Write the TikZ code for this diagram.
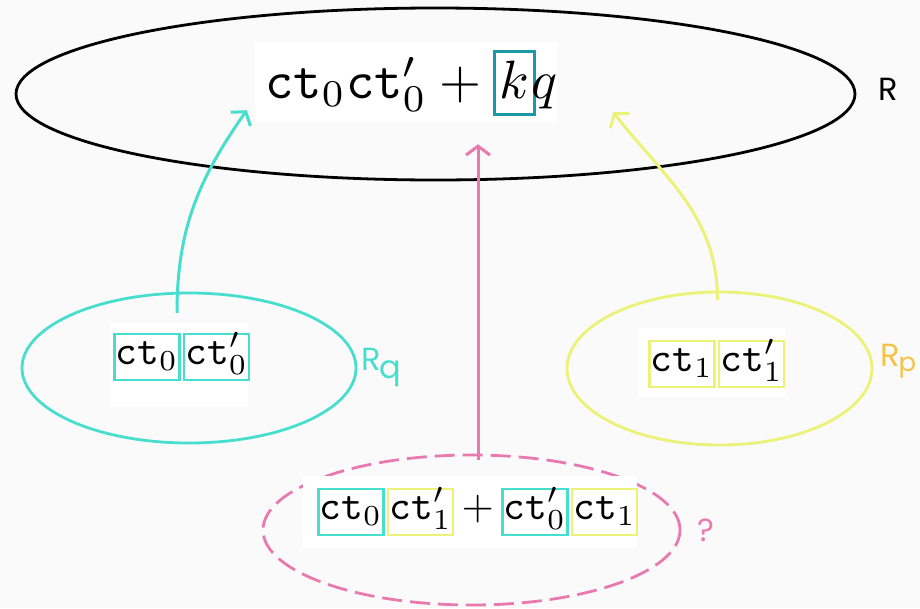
\documentclass[tikz,border=0pt]{standalone}
\usepackage{fontspec}
\usepackage{graphicx}
\newfontfamily\handfont{Poppins}
\usetikzlibrary{shapes.geometric,arrows.meta,calc}
\definecolor{bgc}{RGB}{250,250,250}
\definecolor{cyanC}{RGB}{72,222,205}
\definecolor{yelC}{RGB}{236,242,120}
\definecolor{pinkC}{RGB}{232,122,176}
\definecolor{kboxC}{RGB}{28,152,166}
\definecolor{rpC}{RGB}{244,196,70}
\tikzset{
  ell/.style={draw, ellipse, line width=2.8pt, inner sep=0},
  whitebox/.style={fill=white, draw=none, inner sep=0},
  tbox/.style={draw, line width=2.5pt, inner xsep=1.5pt, inner ysep=1pt, text height=29pt, text depth=15pt, anchor=base west},
  plain/.style={inner sep=0, anchor=base west},
  arr/.style={line width=3pt, -{Straight Barb[length=9pt,width=24pt,line width=3pt]}},
  lbl/.style={inner sep=0, anchor=base west, font=\handfont\fontsize{32}{34}\selectfont}
}
\begin{document}
\begin{tikzpicture}[x=1pt,y=-1pt]
\fill[bgc] (0,0) rectangle (920,608);
\useasboundingbox (0,0) rectangle (920,608);

% big ellipse R
\node[ell, minimum width=839pt, minimum height=172pt] (R) at (435.5,94) {};
\node[whitebox, minimum width=302pt, minimum height=80pt] (topbg) at (406,82) {};
\node[plain] (f1) at (265,98) {\scalebox{5.4}{$\mathtt{ct}_0\mathtt{ct}'_0+{}$}};
\node[draw=kboxC, line width=3pt, inner xsep=5pt, inner ysep=0pt, text height=47pt, text depth=16pt, anchor=base west] (k) at (f1.base east) {\scalebox{5.4}{$k$}};
\node[plain] (q) at ([xshift=-5pt]k.base east) {\scalebox{5.4}{$q$}};
\node[lbl] (Rl) at (878,100) {R};

% R_q
\node[ell, draw=cyanC, minimum width=334pt, minimum height=150pt] (Eq) at (189,368) {};
\node[whitebox, minimum width=138pt, minimum height=84pt] (qbg) at (179,365) {};
\node[tbox, draw=cyanC] (a1) at (113,364) {\scalebox{4.15}{$\mathtt{ct}_0$}};
\node[tbox, draw=cyanC] (a2) at ([xshift=2pt]a1.base east) {\scalebox{4.15}{$\mathtt{ct}'_0$}};
\node[lbl, text=cyanC] (Rql) at (361,370) {R\kern-1pt\raisebox{-8pt}{q}};

% R_p
\node[ell, draw=yelC, minimum width=305pt, minimum height=153pt] (Ep) at (719.5,368.5) {};
\node[whitebox, minimum width=147pt, minimum height=69pt] (pbg) at (711.5,362.5) {};
\node[tbox, draw=yelC] (b1) at (648,371) {\scalebox{4.15}{$\mathtt{ct}_1$}};
\node[tbox, draw=yelC] (b2) at ([xshift=2pt]b1.base east) {\scalebox{4.15}{$\mathtt{ct}'_1$}};
\node[lbl, text=rpC] (Rpl) at (880,366) {R\kern-1pt\raisebox{-5pt}{\fontsize{26}{28}\selectfont p}};

% ?
\node[ell, draw=pinkC, dash pattern=on 20pt off 8pt, minimum width=417pt, minimum height=150pt] (Ex) at (471.5,530) {};
\node[whitebox, minimum width=334pt, minimum height=72pt] (xbg) at (470,512) {};
\node[tbox, draw=cyanC] (c1) at (317,519) {\scalebox{4.15}{$\mathtt{ct}_0$}};
\node[tbox, draw=yelC] (c2) at ([xshift=2pt]c1.base east) {\scalebox{4.15}{$\mathtt{ct}'_1$}};
\node[plain] (plus) at ([xshift=7pt]c2.base east) {\scalebox{4.15}{$+$}};
\node[tbox, draw=cyanC] (c3) at ([xshift=7pt]plus.base east) {\scalebox{4.15}{$\mathtt{ct}'_0$}};
\node[tbox, draw=yelC] (c4) at ([xshift=2pt]c3.base east) {\scalebox{4.15}{$\mathtt{ct}_1$}};
\node[lbl, text=pinkC] (ql) at (697,541) {?};

% arrows
\draw[arr, draw=cyanC] ([xshift=-2pt,yshift=10pt]qbg.north) to[out=90,in=-125] ([xshift=-8pt,yshift=12pt]topbg.south west);
\draw[arr, draw=pinkC] ([xshift=8pt,yshift=16pt]xbg.north) -- ([xshift=72pt,yshift=-22pt]topbg.south);
\draw[arr, draw=yelC] ([xshift=6pt,yshift=28pt]pbg.north) to[out=90,in=-52] ([xshift=56pt,yshift=10pt]topbg.south east);
\end{tikzpicture}
\end{document}
